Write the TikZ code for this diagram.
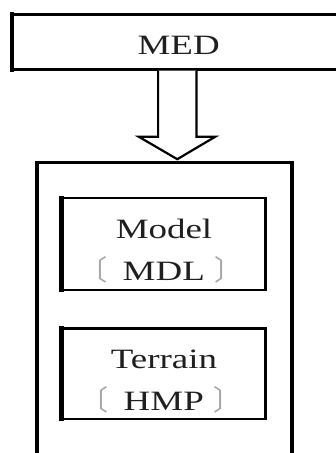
\documentclass[tikz,border=0pt]{standalone}
\usepackage{fontspec}
\setmainfont{Liberation Serif}[FakeStretch=1.32]
\newfontfamily\cjk{Noto Sans CJK SC}
\newcommand\lbrk{{\cjk\color{black!35}〔}\hspace{0.55em}}
\newcommand\rbrk{\hspace{0.35em}{\cjk\color{black!35}〕}}
\tikzset{
  frame/.style={draw=black, line width=2.4pt, rectangle, inner sep=0pt, line join=miter},
  leftedge/.style={draw=black, line width=4.6pt, shorten <=-1.2pt, shorten >=-1.2pt},
  caption/.style={font=\fontsize{28}{33}\selectfont, text=black!88, inner sep=0pt, anchor=base},
  blockarrow/.style={draw=black, line width=2.2pt, line join=miter, fill=white}
}
\begin{document}
\begin{tikzpicture}[x=1pt,y=-1pt]
\useasboundingbox (0,0) rectangle (336,453);
\begin{scope}
\clip (0,0) rectangle (336,453);
% top module, running off the right side
\node[frame, minimum width=332pt, minimum height=55pt] (med) at (179,42) {};
\node[caption] (medtext) at (178.7,54.5) {MED};
% outer container, running off the bottom
\node[frame, line width=3.4pt, minimum width=255pt, minimum height=320pt] (big) at (164.5,322.5) {};
% inner modules
\node[frame, minimum width=202.5pt, minimum height=92pt] (mdl) at (164.2,244) {};
\node[frame, minimum width=202.5pt, minimum height=90.5pt] (hmp) at (164.2,373.7) {};
\foreach \n in {med,mdl,hmp}
  \draw[leftedge] (\n.north west) -- (\n.south west);
\node[caption] (mdlname) at (164,238.5) {Model};
\node[caption] (mdlcode) at (161,280.5) {\lbrk MDL\rbrk};
\node[caption] (hmpname) at (164,368.5) {Terrain};
\node[caption] (hmpcode) at (161,410.5) {\lbrk HMP\rbrk};
% hollow block arrow from MED into the container
\coordinate (ax) at (177.3,0);
\coordinate (tip) at ([yshift=1.6pt]ax |- big.north);
\draw[blockarrow] ([xshift=-19.2pt]ax |- med.south)
  -- ([xshift=-19.2pt,yshift=22.5pt]tip)
  -- ([xshift=-38.6pt,yshift=22.5pt]tip)
  -- (tip)
  -- ([xshift=38pt,yshift=22.5pt]tip)
  -- ([xshift=19.2pt,yshift=22.5pt]tip)
  -- ([xshift=19.2pt]ax |- med.south);
\end{scope}
\end{tikzpicture}
\end{document}
